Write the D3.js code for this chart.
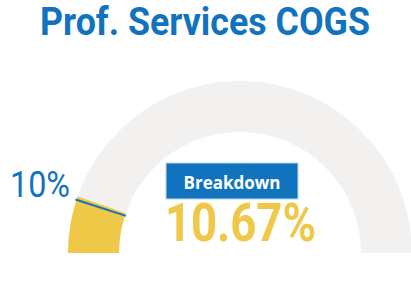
<!DOCTYPE html>
<html>
<head>
<meta charset="utf-8">
<script src="https://cdn.jsdelivr.net/npm/d3@7"></script>
<style>
  body { margin: 0; background: #fff; }
  svg { display: block; }
</style>
</head>
<body>
<div id="chart"></div>
<script>
// gauge data
var title = ["Prof. Services COGS"];
var gaugeRange = [0, 100];
var actual = [10.67];
var target = [10];
var buttonLabel = ["Breakdown"];

var width = 411, height = 292;
var blue = "#1173be", yellow = "#eec846", grey = "#f2f1f0";

var svg = d3.select("#chart").append("svg")
  .attr("width", width)
  .attr("height", height);

// title
svg.append("text")
  .attr("x", 40).attr("y", 35)
  .attr("textLength", 330)
  .attr("lengthAdjust", "spacingAndGlyphs")
  .style("font-family", "Roboto, sans-serif")
  .style("font-weight", "bold")
  .style("font-size", "39px")
  .style("fill", blue)
  .text(title[0]);

var cx = 240, cy = 253, rOuter = 172, rInner = 121;

var angle = d3.scaleLinear()
  .domain(gaugeRange)
  .range([-Math.PI / 2, Math.PI / 2]);

var arc = d3.arc().innerRadius(rInner).outerRadius(rOuter);

var g = svg.append("g").attr("transform", "translate(" + cx + "," + cy + ")");

// background track
g.append("path")
  .attr("d", arc({ startAngle: angle(gaugeRange[0]), endAngle: angle(gaugeRange[1]) }))
  .style("fill", grey);

// value fill
g.selectAll("path.value")
  .data(actual)
  .enter().append("path")
  .attr("class", "value")
  .attr("d", function(d) { return arc({ startAngle: angle(gaugeRange[0]), endAngle: angle(d) }); })
  .style("fill", yellow);

// target marker
g.selectAll("line.target")
  .data(target)
  .enter().append("line")
  .attr("class", "target")
  .attr("x1", function(d) { return Math.sin(angle(d)) * (rInner - 1); })
  .attr("y1", function(d) { return -Math.cos(angle(d)) * (rInner - 1); })
  .attr("x2", function(d) { return Math.sin(angle(d)) * (rOuter + 1); })
  .attr("y2", function(d) { return -Math.cos(angle(d)) * (rOuter + 1); })
  .style("stroke", blue)
  .style("stroke-width", 2);

// target label
svg.append("text")
  .attr("x", 10).attr("y", 197)
  .attr("textLength", 60)
  .attr("lengthAdjust", "spacingAndGlyphs")
  .style("font-family", "Roboto, sans-serif")
  .style("font-weight", "normal")
  .style("font-size", "37px")
  .style("fill", blue)
  .text(d3.format(".0f")(target[0]) + "%");

// breakdown button
svg.append("rect")
  .attr("x", 166).attr("y", 163)
  .attr("width", 132).attr("height", 36)
  .style("fill", blue)
  .style("stroke", "#b9d6ee")
  .style("stroke-width", 1);

svg.append("text")
  .attr("x", 232).attr("y", 189)
  .attr("text-anchor", "middle")
  .style("font-family", "'Open Sans', sans-serif")
  .style("font-weight", "bold")
  .style("font-size", "17px")
  .style("fill", "#fff")
  .text(buttonLabel[0]);

// actual value
svg.append("text")
  .attr("x", 165).attr("y", 241)
  .attr("textLength", 151)
  .attr("lengthAdjust", "spacingAndGlyphs")
  .style("font-family", "Roboto, sans-serif")
  .style("font-weight", "bold")
  .style("font-size", "53px")
  .style("fill", yellow)
  .text(d3.format(".2f")(actual[0]) + "%");
</script>
</body>
</html>
